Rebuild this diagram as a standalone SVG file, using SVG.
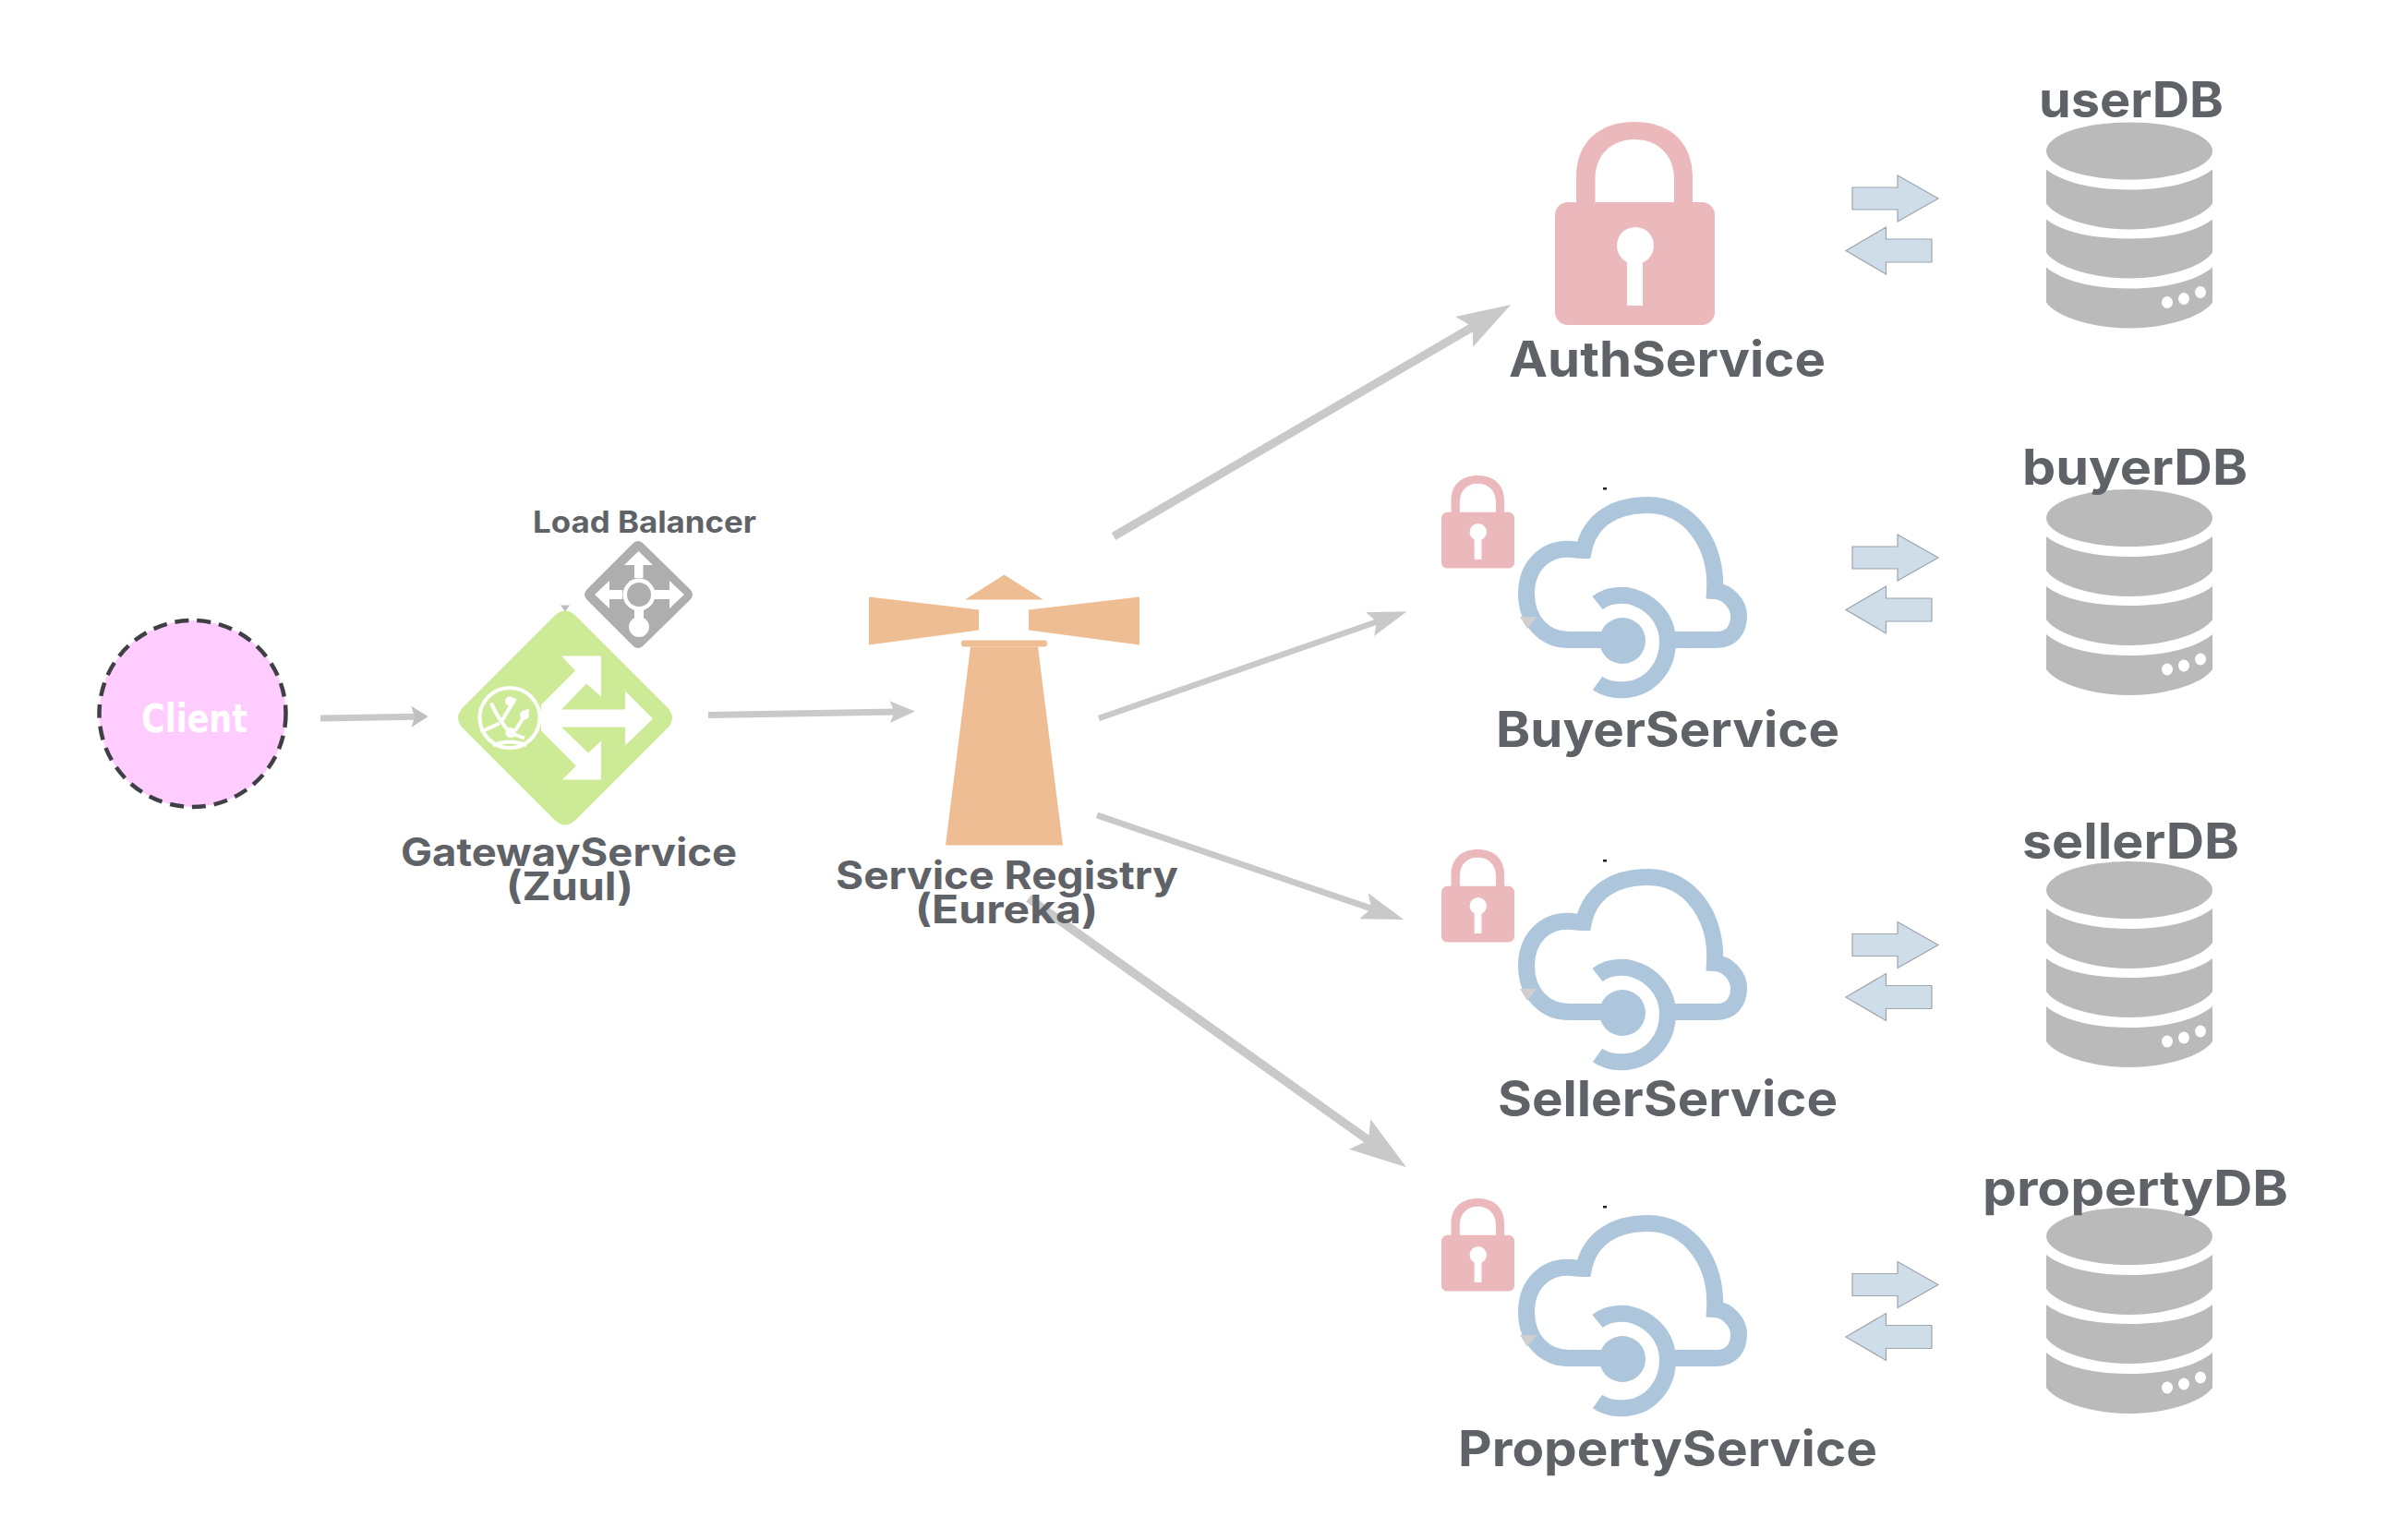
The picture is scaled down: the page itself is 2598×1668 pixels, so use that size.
<svg xmlns="http://www.w3.org/2000/svg" xmlns:xlink="http://www.w3.org/1999/xlink" width="2598" height="1668" viewBox="0 0 2598 1668">
<style>
.t{font-family:"Inter","Liberation Sans",sans-serif;font-weight:700;fill:#5f6368;text-anchor:start}
.big{font-size:53px}
.mid{font-size:42px}
.small{font-size:32px}
.conn{stroke:#c9c9c9;fill:none}
.tr{fill:#cfdde9;stroke:#9aa5b0;stroke-width:1.2}
.db{fill:#bababa}
.cl{fill:none;stroke:#aec6dc;stroke-width:18}
</style>
<defs>
<filter id="soft" x="-5%" y="-5%" width="110%" height="110%"><feGaussianBlur stdDeviation="0.7"/></filter>
<marker id="hd" viewBox="0 0 6.5 4.2" markerWidth="6.5" markerHeight="4.2" refX="1.2" refY="2.1" orient="auto" markerUnits="strokeWidth"><path d="M0,0 L6.5,2.1 L0,4.2 L1.2,2.1Z" fill="#c9c9c9"/></marker>
<marker id="hs" viewBox="0 0 3.9 3.4" markerWidth="3.9" markerHeight="3.4" refX="0.7" refY="1.7" orient="auto" markerUnits="strokeWidth"><path d="M0,0 L3.9,1.7 L0,3.4 L0.7,1.7Z" fill="#c9c9c9"/></marker>
<marker id="hc" viewBox="0 0 2.6 3.3" markerWidth="2.6" markerHeight="3.3" refX="0.5" refY="1.65" orient="auto" markerUnits="strokeWidth"><path d="M0,0 L2.6,1.65 L0,3.3 L0.5,1.65Z" fill="#c0c0c0"/></marker>
<g id="lock">
<path fill="#ebb9bb" d="M23 90V60C23 20 50 0 86 0C122 0 149 20 149 60V90H129V62C129 35 110 19 86 19C62 19 43.5 35 43.5 62V90Z"/>
<rect x="0" y="87" width="173" height="133" rx="14" fill="#ebb9bb"/>
<circle cx="87" cy="134" r="20" fill="#fff"/>
<rect x="78" y="134" width="17" height="65" fill="#fff"/>
</g>
<g id="cloud">
<path class="cl" d="M1735 693H1699C1672 693 1653 672 1653 643C1653 612 1675 592 1703 595C1708 596 1712 596 1715 596C1722 562 1750 547 1785 547C1830 547 1860 590 1857 640C1872 641 1883 655 1883 667C1883 682 1875 693 1859 693H1813"/>
<path class="cl" d="M1730 653C1740 645 1752 644 1762 645C1788 650 1806 670 1806 695C1806 722 1788 744 1762 747C1752 748 1740 747 1730 740"/>
<circle cx="1757" cy="694" r="25" fill="#aec6dc"/>
<path d="M1646 668H1664L1654 681Z" fill="#cfcfcf"/>
<rect x="1736" y="528" width="4" height="2.5" fill="#222"/>
</g>
<g id="database">
<ellipse class="db" cx="2306" cy="163" rx="90" ry="31"/>
<path class="db" d="M2216 183C2235 198 2270 205 2306 205C2342 205 2377 198 2396 183V220C2385 236 2345 248 2306 248C2267 248 2227 236 2216 220Z"/>
<path class="db" d="M2216 237C2235 252 2270 258 2306 258C2342 258 2377 252 2396 237V273C2385 289 2345 301 2306 301C2267 301 2227 289 2216 273Z"/>
<path class="db" d="M2216 289C2235 305 2270 312 2306 312C2342 312 2377 305 2396 289V327C2385 343 2345 355 2306 355C2267 355 2227 343 2216 327Z"/>
<ellipse cx="2347" cy="327" rx="6" ry="6.5" fill="#fff"/>
<ellipse cx="2365" cy="323" rx="6" ry="6.5" fill="#fff"/>
<ellipse cx="2383" cy="316" rx="6" ry="6.5" fill="#fff"/>
</g>
<g id="flow">
<path class="tr" d="M2006 203H2055V190L2099 215L2055 240V227H2006Z"/>
<path class="tr" d="M2092 259H2042.5V246L1999 271.5L2042.5 297V284H2092Z"/>
</g>
</defs>

<g id="connectors" filter="url(#soft)">
<line class="conn" x1="347" y1="778" x2="449" y2="776.2" stroke-width="7" marker-end="url(#hc)"/>
<line class="conn" x1="767" y1="774.500" x2="968.6" y2="771" stroke-width="7" marker-end="url(#hs)"/>
<line class="conn" x1="1206" y1="581" x2="1595" y2="354" stroke-width="9" marker-end="url(#hd)"/>
<line class="conn" x1="1190" y1="778" x2="1491" y2="673.5" stroke-width="6.500" marker-end="url(#hd)"/>
<line class="conn" x1="1188" y1="883" x2="1485" y2="984" stroke-width="7" marker-end="url(#hd)"/>
<line class="conn" x1="1114" y1="973" x2="1482" y2="1235" stroke-width="9.500" marker-end="url(#hd)"/>
</g>

<g id="client">
<circle cx="208.500" cy="773" r="101" fill="#ffccff" stroke="#3f3f46" stroke-width="4.500" stroke-dasharray="15 9"/>
<text x="153" y="793" font-family="'DejaVu Sans',sans-serif" font-weight="700" font-size="42" fill="#fff" textLength="115" lengthAdjust="spacingAndGlyphs">Client</text>
</g>

<g id="gateway">
<g transform="translate(0 1.5)">
<path d="M601 665Q612 655 623 665L723 765Q733 776 723 787L623 887Q612 897 601 887L501 787Q491 776 501 765Z" fill="#cdeb97"/>
<path fill="#fff" d="M586 762L623 725L608 709H651V753L635 739L608 767H677V747L707 777L677 806V786H608L637 814L651 801V843H609L624 828L586 790Z"/>
<circle cx="552" cy="776" r="32.500" fill="#cdeb97" stroke="#fff" stroke-width="4"/>
<path d="M532 760Q538 775 552 792L568 798M558 755L543 780M572 767L558 790M521 791L541 782M534 806Q552 798 570 806" fill="none" stroke="#fff" stroke-width="4"/>
<circle cx="552" cy="758" r="5" fill="#fff"/><circle cx="568" cy="773" r="5" fill="#fff"/><circle cx="553" cy="792" r="5.500" fill="#fff"/>
<path d="M607 654H617L612 661Z" fill="#bdbdbd"/>
</g>
<text class="t mid" x="434" y="938" textLength="364" lengthAdjust="spacingAndGlyphs">GatewayService</text>
<text class="t mid" x="548" y="975" textLength="138" lengthAdjust="spacingAndGlyphs">(Zuul)</text>
</g>

<g id="load-balancer">
<path d="M684 590Q691 582 698 590L747 638Q753 644 747 650L698 698Q691 706 684 698L636 650Q630 644 636 638Z" fill="#aeaeae"/>
<path d="M691.500 597L707 612H696.500V626H687V612H676Z M644 644L660 629V639H674V649H660V659Z M741 644L725 629V639H709V649H725V659Z" fill="#fff"/>
<rect x="687" y="656" width="10" height="16" fill="#fff"/>
<circle cx="692" cy="644" r="17.500" fill="#fff"/>
<circle cx="692" cy="644" r="13" fill="#aeaeae"/>
<circle cx="692" cy="679" r="11" fill="#fff"/>
<text class="t small" x="577" y="577" textLength="242" lengthAdjust="spacingAndGlyphs">Load Balancer</text>
</g>

<g id="registry">
<g transform="translate(0 1.5)">
<path fill="#efbd93" d="M1087.500 621L1130 648H1045Z M941 645L1060 659V681L941 697Z M1234 645L1114 659V681L1234 697Z"/>
<rect x="1041" y="692" width="93" height="7" rx="3" fill="#efbd93"/>
<path fill="#efbd93" d="M1051 699H1124L1151 914H1024Z"/>
</g>
<text class="t mid" x="905" y="963" textLength="371" lengthAdjust="spacingAndGlyphs">Service Registry</text>
<text class="t mid" x="991" y="999.500" textLength="198" lengthAdjust="spacingAndGlyphs">(Eureka)</text>
</g>

<g id="auth-service">
<use href="#lock" transform="translate(1684 132)"/>
<text class="t big" x="1634" y="407.500" textLength="343" lengthAdjust="spacingAndGlyphs">AuthService</text>
</g>
<g id="buyer-service">
<use href="#lock" transform="translate(1561 515) scale(.457)"/>
<use href="#cloud"/>
<text class="t big" x="1620" y="808.500" textLength="372" lengthAdjust="spacingAndGlyphs">BuyerService</text>
</g>
<g id="seller-service">
<use href="#lock" transform="translate(1561 920) scale(.457)"/>
<use href="#cloud" transform="translate(0 403)"/>
<text class="t big" x="1622" y="1208.500" textLength="368" lengthAdjust="spacingAndGlyphs">SellerService</text>
</g>
<g id="property-service">
<use href="#lock" transform="translate(1561 1298) scale(.457)"/>
<use href="#cloud" transform="translate(0 778)"/>
<text class="t big" x="1579" y="1587.500" textLength="454" lengthAdjust="spacingAndGlyphs">PropertyService</text>
</g>

<g id="flows">
<use href="#flow"/>
<use href="#flow" transform="translate(0 389)"/>
<use href="#flow" transform="translate(0 808.500)"/>
<use href="#flow" transform="translate(0 1176.500)"/>
</g>

<g id="user-db"><use href="#database" transform="translate(0 .5)"/><text class="t big" x="2208" y="126.500" textLength="200" lengthAdjust="spacingAndGlyphs">userDB</text></g>
<g id="buyer-db"><use href="#database" transform="translate(0 398)"/><text class="t big" x="2190" y="525" textLength="244" lengthAdjust="spacingAndGlyphs">buyerDB</text></g>
<g id="seller-db"><use href="#database" transform="translate(0 801)"/><text class="t big" x="2190" y="929.500" textLength="235" lengthAdjust="spacingAndGlyphs">sellerDB</text></g>
<g id="property-db"><use href="#database" transform="translate(0 1176)"/><text class="t big" x="2147" y="1305.500" textLength="331" lengthAdjust="spacingAndGlyphs">propertyDB</text></g>
</svg>
